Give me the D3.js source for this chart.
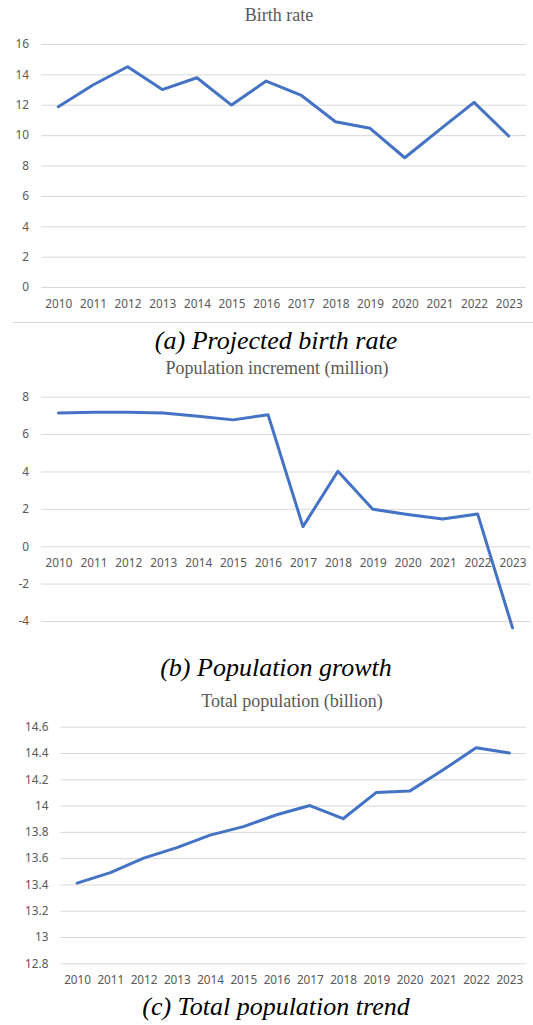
<!DOCTYPE html>
<html>
<head>
<meta charset="utf-8">
<script src="https://cdn.jsdelivr.net/npm/d3@7"></script>
<style>
  html, body { margin: 0; padding: 0; background: #fff; }
  svg { display: block; }
</style>
</head>
<body>
<svg id="fig" width="533" height="1025"></svg>
<script>
// Years shared by all three panels
const years = ["2010","2011","2012","2013","2014","2015","2016","2017","2018","2019","2020","2021","2022","2023"];

// (a) birth rate
const birthRate = [11.87, 13.3, 14.5, 13.0, 13.78, 11.98, 13.56, 12.64, 10.88, 10.45, 8.51, 10.35, 12.16, 9.94];
const birthTicks = [0, 2, 4, 6, 8, 10, 12, 14, 16];

// (b) population increment, million
const increment = [7.13, 7.17, 7.17, 7.13, 6.95, 6.76, 7.04, 1.05, 4.01, 1.98, 1.70, 1.46, 1.73, -4.37];
const incrementTicks = [-4, -2, 0, 2, 4, 6, 8];

// (c) total population, billion
const totalPop = [13.41, 13.49, 13.60, 13.68, 13.775, 13.84, 13.93, 14.00, 13.90, 14.10, 14.11, 14.27, 14.44, 14.40];
const totalTicks = [12.8, 13.0, 13.2, 13.4, 13.6, 13.8, 14.0, 14.2, 14.4, 14.6];

const svg = d3.select("#fig");
const LINE = "#4472c4", GRID = "#d9d9d9", TXT = "#595959";
const tickFont = "'Noto Sans', 'Open Sans', sans-serif";
const serif = "'Liberation Serif', 'Times New Roman', serif";
const tickSize = "11.8px";

// plain hyphen for negatives, no trailing zeros
const fmt = d => String(+(+d).toFixed(1));

function panel(cfg) {
  const g = svg.append("g");
  const x = d3.scalePoint().domain(years).range([cfg.x0, cfg.x1]).padding(0.5);
  const y = d3.scaleLinear().domain(cfg.domain).range([cfg.yBottom, cfg.yTop]);

  // horizontal gridlines + value labels
  const yAxis = d3.axisLeft(y).tickValues(cfg.ticks).tickSize(-(cfg.x1 - cfg.x0))
    .tickPadding(cfg.labelGap).tickFormat(fmt);
  const ya = g.append("g").attr("transform", `translate(${cfg.x0},0)`).call(yAxis);
  ya.select(".domain").remove();
  ya.selectAll(".tick line").attr("stroke", GRID).attr("stroke-width", 1);
  ya.selectAll(".tick text").attr("fill", TXT).style("font-family", tickFont).style("font-size", tickSize);

  // category labels along the base line
  const xAxis = d3.axisBottom(x).tickSize(0).tickPadding(0);
  const xa = g.append("g").attr("transform", `translate(0,${cfg.xLabelY})`).call(xAxis);
  xa.select(".domain").remove();
  xa.selectAll(".tick text").attr("fill", TXT).attr("dy", "0.35em")
    .style("font-family", tickFont).style("font-size", tickSize);

  // series line
  const line = d3.line().x((d, i) => x(years[i])).y(d => y(d));
  g.append("path").datum(cfg.values).attr("d", line)
    .attr("fill", "none").attr("stroke", LINE).attr("stroke-width", 3)
    .attr("stroke-linejoin", "round").attr("stroke-linecap", "round");

  // chart title
  g.append("text").attr("x", cfg.titleX).attr("y", cfg.titleY).attr("text-anchor", "middle")
    .attr("fill", TXT).style("font-family", serif).style("font-size", "18px")
    .text(cfg.title);

  // sub-figure caption
  g.append("text").attr("x", 276).attr("y", cfg.captionY).attr("text-anchor", "middle")
    .attr("fill", "#000").style("font-family", serif).style("font-style", "italic")
    .style("font-size", "26px").text(cfg.caption);
  return g;
}

panel({
  x0: 41, x1: 526, yTop: 44, yBottom: 287, domain: [0, 16], ticks: birthTicks, labelGap: 12,
  xLabelY: 304, values: birthRate, title: "Birth rate", titleX: 279, titleY: 21,
  caption: "(a) Projected birth rate", captionY: 349
});

// separator under panel (a)
svg.append("line").attr("x1", 12).attr("x2", 533).attr("y1", 322.5).attr("y2", 322.5)
  .attr("stroke", GRID).attr("stroke-width", 1);

panel({
  x0: 41, x1: 530, yTop: 396.7, yBottom: 621, domain: [-4, 8], ticks: incrementTicks, labelGap: 12,
  xLabelY: 563, values: increment, title: "Population increment (million)", titleX: 277, titleY: 374,
  caption: "(b) Population growth", captionY: 676
});

panel({
  x0: 60.5, x1: 526, yTop: 726.7, yBottom: 963.3, domain: [12.8, 14.6], ticks: totalTicks, labelGap: 12,
  xLabelY: 980, values: totalPop, title: "Total population (billion)", titleX: 292, titleY: 707,
  caption: "(c) Total population trend", captionY: 1015
});
</script>
</body>
</html>
